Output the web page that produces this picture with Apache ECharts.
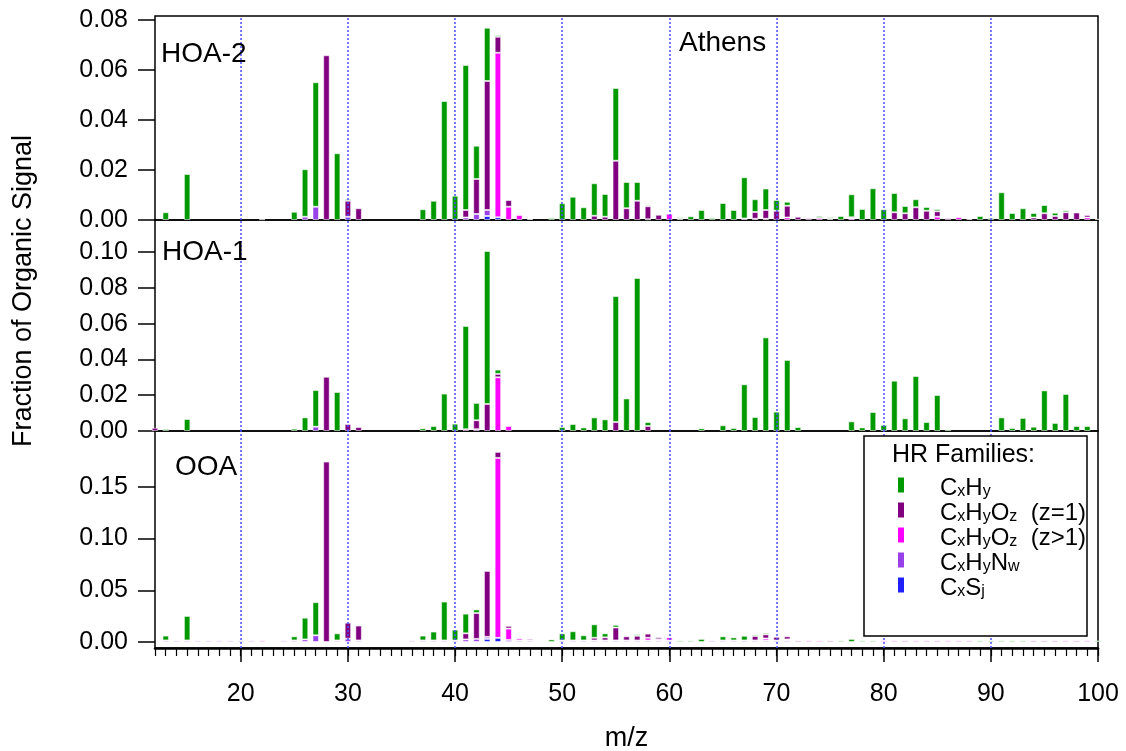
<!DOCTYPE html>
<html>
<head>
<meta charset="utf-8">
<script src="https://cdn.jsdelivr.net/npm/echarts@6/dist/echarts.min.js"></script>
<style>
  html, body { margin: 0; padding: 0; background: #fff; }
  #chart { width: 1126px; height: 751px; }
</style>
</head>
<body>
<div id="chart"></div>
<script>
// HR family mass spectra of the PMF factors (Athens), fraction of organic signal per m/z.
// Each array holds [m/z, fraction] pairs for one family in one factor.

// ---- HOA-2 ----
const hoa2CxHy = [[13,0.0031],[15,0.0184],[25,0.0033],[26,0.019],[27,0.0498],[29,0.0267],[30,0.0007],
  [37,0.0043],[38,0.0077],[39,0.0476],[40,0.0097],[41,0.058],[42,0.0133],[43,0.0213],[44,0.0007],
  [49,0.0008],[50,0.0067],[51,0.0093],[52,0.0051],[53,0.013],[54,0.0091],[55,0.0291],[56,0.0105],
  [57,0.0075],[58,0.0005],[61,0.0006],[62,0.0015],[63,0.004],[64,0.0008],[65,0.0068],[66,0.004],
  [67,0.0165],[68,0.0051],[69,0.0086],[70,0.0043],[71,0.0016],[74,0.0008],[75,0.0006],[76,0.0016],
  [77,0.0092],[78,0.0044],[79,0.0127],[80,0.0043],[81,0.0077],[82,0.0029],[83,0.0032],[84,0.0015],
  [85,0.0009],[88,0.0004],[89,0.0016],[90,0.0008],[91,0.0111],[92,0.0028],[93,0.0047],[94,0.0018],
  [95,0.0033],[96,0.0013],[97,0.0008],[98,0.0003],[99,0.0004],[100,0.0005]];
const hoa2CxHyO1 = [[28,0.0659],[30,0.0064],[31,0.0047],[41,0.003],[42,0.014],[43,0.0516],[44,0.0064],
  [45,0.0027],[53,0.0017],[54,0.0013],[55,0.0237],[56,0.0047],[57,0.0077],[58,0.0052],[59,0.0021],
  [61,0.0005],[67,0.0006],[68,0.0027],[69,0.0035],[70,0.0037],[71,0.0047],[72,0.0013],[73,0.0007],
  [75,0.0005],[77,0.0005],[81,0.0031],[82,0.0027],[83,0.0051],[84,0.0037],[85,0.0022],[86,0.0007],
  [94,0.001],[95,0.0027],[96,0.0016],[97,0.0031],[98,0.003],[99,0.001]];
const hoa2CxHyO2 = [[22,0.0003],[44,0.0658],[45,0.0053],[46,0.002],[47,0.0004],[58,0.0003],[60,0.0025],
  [68,0.0005],[69,0.0005],[71,0.001],[74,0.0008],[77,0.0006],[85,0.0013],[87,0.0011],[99,0.001]];
const hoa2CxHyN = [[26,0.0013],[27,0.0053],[30,0.0013],[41,0.001],[42,0.0024],[43,0.0024]];
const hoa2CxS = [[43,0.0016],[44,0.0011]];

// ---- HOA-1 ----
const hoa1CxHy = [[13,0.0011],[15,0.0067],[25,0.0013],[26,0.0076],[27,0.0205],[29,0.0218],
  [37,0.0015],[38,0.0028],[39,0.0209],[40,0.0041],[41,0.0577],[42,0.0097],[43,0.0855],[44,0.0024],
  [50,0.0022],[51,0.0039],[52,0.002],[53,0.0076],[54,0.0065],[55,0.0704],[56,0.0182],[57,0.0855],
  [58,0.0022],[63,0.0015],[65,0.0032],[66,0.0017],[67,0.0261],[68,0.0078],[69,0.0523],[70,0.0108],
  [71,0.0397],[72,0.0022],[77,0.0054],[78,0.002],[79,0.0106],[80,0.0034],[81,0.0281],[82,0.0071],
  [83,0.0307],[84,0.005],[85,0.0201],[86,0.0009],[91,0.0076],[92,0.0017],[93,0.0073],[94,0.0024],
  [95,0.0227],[96,0.0045],[97,0.0207],[98,0.0028],[99,0.0028]];
const hoa1CxHyO1 = [[12,0.0018],[28,0.0303],[30,0.0039],[31,0.0022],[41,0.001],[42,0.005],[43,0.0151],
  [44,0.0019],[55,0.005],[58,0.0028]];
const hoa1CxHyO2 = [[44,0.03],[45,0.0028]];
const hoa1CxHyN = [[27,0.0024],[42,0.001]];
const hoa1CxS = [];

// ---- OOA ----
const ooaCxHy = [[13,0.0047],[15,0.0237],[25,0.004],[26,0.021],[27,0.032],[29,0.0069],[37,0.0047],
  [38,0.0086],[39,0.0376],[40,0.0105],[41,0.019],[42,0.0035],[49,0.0025],[50,0.0069],[51,0.0089],
  [52,0.005],[53,0.013],[54,0.0039],[55,0.0026],[57,0.0015],[61,0.0015],[62,0.0015],[63,0.003],
  [65,0.004],[66,0.003],[67,0.0045],[68,0.0015],[69,0.0015],[76,0.0015],[77,0.003],[78,0.0015],
  [79,0.0015],[89,0.0015],[90,0.0015],[91,0.0015],[92,0.0015],[93,0.0015],[100,0.0015]];
const ooaCxHyO1 = [[28,0.1744],[30,0.0155],[31,0.0144],[41,0.0059],[42,0.025],[43,0.0637],[44,0.0058],
  [45,0.0026],[47,0.0015],[53,0.0026],[54,0.003],[55,0.0125],[56,0.004],[57,0.0045],[58,0.004],
  [59,0.002],[68,0.0043],[69,0.004],[70,0.0035],[71,0.003],[72,0.0015],[75,0.0015],[82,0.0015],
  [85,0.0015],[94,0.0015],[95,0.0015],[96,0.0015],[98,0.0015]];
const ooaCxHyO2 = [[22,0.0015],[44,0.174],[45,0.011],[46,0.002],[58,0.0026],[59,0.0011],[60,0.003],
  [69,0.0019],[71,0.001],[73,0.0015],[74,0.0015],[80,0.0015],[81,0.0015],[83,0.0015],[84,0.0015],
  [86,0.0015],[87,0.0015],[88,0.0015],[97,0.0015],[99,0.0015]];
const ooaCxHyN = [[13,0.0015],[14,0.0015],[15,0.0015],[16,0.0015],[17,0.0015],[18,0.0015],[19,0.0015],
  [20,0.0015],[21,0.0015],[24,0.0015],[25,0.0015],[26,0.0025],[27,0.0065],[29,0.0015],[30,0.0032],
  [31,0.0015],[36,0.0015],[37,0.0015],[38,0.0015],[39,0.0015],[40,0.0015],[41,0.0025],[42,0.003],
  [43,0.002],[45,0.002],[46,0.0015],[47,0.0015],[50,0.0015],[51,0.0015],[52,0.0015],[53,0.0015],
  [54,0.0015],[55,0.0015],[56,0.0015],[57,0.0015],[58,0.0015],[59,0.0015],[60,0.0015],[64,0.0015],
  [65,0.0015],[66,0.0015],[67,0.0015],[68,0.0015],[69,0.0015],[70,0.0015],[71,0.0015]];
const ooaCxS = [[43,0.003],[44,0.004]];

// Unit-mass positions shared by every panel
const mzAxis = [12,13,14,15,16,17,18,19,20,21,22,23,24,25,26,27,28,29,30,31,32,33,34,35,36,37,38,39,40,
  41,42,43,44,45,46,47,48,49,50,51,52,53,54,55,56,57,58,59,60,61,62,63,64,65,66,67,68,69,70,
  71,72,73,74,75,76,77,78,79,80,81,82,83,84,85,86,87,88,89,90,91,92,93,94,95,96,97,98,99,100];

// Axis ticks and reference lines
const panelNames = ['HOA-2', 'HOA-1', 'OOA'];
const yTicks = [[0, 0.02, 0.04, 0.06, 0.08], [0, 0.02, 0.04, 0.06, 0.08, 0.10], [0, 0.05, 0.10, 0.15]];
const yRange = [[0, 0.0816], [0, 0.1179], [-0.0058, 0.204]];
const xMajorTicks = [20, 30, 40, 50, 60, 70, 80, 90, 100];
const gridLines = [20, 30, 40, 50, 60, 70, 80, 90];

// Family order = stacking order, bottom to top
const familyKeys = ['CxS', 'CxHyN', 'CxHyO2', 'CxHyO1', 'CxHy'];
const familyColors = { CxHy: '#009900', CxHyO1: '#800080', CxHyO2: '#ff00ff', CxHyN: '#9940e8', CxS: '#2020ff' };
const familyLabels = {
  CxHy: '{g|}{n|C}{s|x}{n|H}{s|y}',
  CxHyO1: '{g|}{n|C}{s|x}{n|H}{s|y}{n|O}{s|z}{n|  (z=1)}',
  CxHyO2: '{g|}{n|C}{s|x}{n|H}{s|y}{n|O}{s|z}{n|  (z>1)}',
  CxHyN: '{g|}{n|C}{s|x}{n|H}{s|y}{n|N}{s|w}',
  CxS: '{g|}{n|C}{s|x}{n|S}{s|j}'
};
const panelData = [
  { CxHy: hoa2CxHy, CxHyO1: hoa2CxHyO1, CxHyO2: hoa2CxHyO2, CxHyN: hoa2CxHyN, CxS: hoa2CxS },
  { CxHy: hoa1CxHy, CxHyO1: hoa1CxHyO1, CxHyO2: hoa1CxHyO2, CxHyN: hoa1CxHyN, CxS: hoa1CxS },
  { CxHy: ooaCxHy, CxHyO1: ooaCxHyO1, CxHyO2: ooaCxHyO2, CxHyN: ooaCxHyN, CxS: ooaCxS }
];

// Rows are [fraction, m/z] aligned on mzAxis, so the stacked dimension is the fraction
// and every family in a panel shares the same row index.
function alignToAxis(pairs) {
  const lookup = new Map(pairs);
  return mzAxis.map(m => [lookup.has(m) ? lookup.get(m) : '-', m]);
}

const FONT = 'Liberation Sans, Arial, sans-serif';

const gridBox = [
  { top: 16, height: 204 },
  { top: 220, height: 211 },
  { top: 431, height: 217 }
];

const grids = gridBox.map(g => ({
  left: 155, width: 943, top: g.top, height: g.height,
  outerBoundsMode: 'none', containLabel: false,
  show: true, borderColor: '#000', borderWidth: 1.5, backgroundColor: 'transparent'
}));

const xAxes = [0, 1].map(i => ({
  type: 'value', gridIndex: i, min: 12, max: 100, show: false
}));
xAxes.push({
  type: 'value', gridIndex: 2, position: 'bottom', offset: 0, min: 12, max: 100, interval: 1,
  axisLine: { show: true, onZero: false, lineStyle: { color: '#000', width: 2.5 } },
  axisTick: { show: true, length: 8, lineStyle: { color: '#000', width: 1.2 } },
  axisLabel: { show: false },
  splitLine: { show: false },
  name: 'm/z', nameLocation: 'middle', nameGap: 77,
  nameTextStyle: { fontSize: 27, fontFamily: FONT, color: '#000' }
});
xAxes.push({
  type: 'value', gridIndex: 2, position: 'bottom', offset: 0, min: 12, max: 100,
  axisLine: { show: false, onZero: false },
  axisTick: { show: true, length: 14, customValues: xMajorTicks, lineStyle: { color: '#000', width: 1.5 } },
  axisLabel: { show: true, customValues: xMajorTicks, margin: 34, fontSize: 25, fontFamily: FONT, color: '#000' },
  splitLine: { show: false }
});

const yAxes = [0, 1, 2].map(i => ({
  type: 'value', gridIndex: i, min: yRange[i][0], max: yRange[i][1],
  axisLine: { show: false },
  axisTick: { show: true, length: 17, customValues: yTicks[i], lineStyle: { color: '#000', width: 1.5 } },
  axisLabel: {
    show: true, customValues: yTicks[i], margin: 27, fontSize: 25, fontFamily: FONT, color: '#000',
    formatter: v => v.toFixed(2)
  },
  splitLine: { show: false }
}));

const series = [];
panelData.forEach((pd, p) => {
  familyKeys.forEach(key => {
    const s = {
      type: 'bar', name: key, xAxisIndex: p, yAxisIndex: p,
      stack: 'panel' + p, barWidth: 6.5, data: alignToAxis(pd[key]),
      encode: { x: 1, y: 0 },
      itemStyle: { color: familyColors[key], borderColor: 'rgba(255,255,255,0.55)', borderWidth: 1 },
      emphasis: { disabled: true }
    };
    if (key === 'CxHy') {
      s.markLine = {
        silent: true, symbol: ['none', 'none'], label: { show: false },
        lineStyle: { type: [2, 2], color: '#4d4dff', width: 1.5 },
        data: gridLines.map(v => ({ xAxis: v }))
      };
    }
    series.push(s);
  });
});

const textStyleBase = { fill: '#000', fontFamily: FONT };

const option = {
  animation: false,
  backgroundColor: '#fff',
  grid: grids,
  xAxis: xAxes,
  yAxis: yAxes,
  series: series,
  legend: {
    data: ['CxHy', 'CxHyO1', 'CxHyO2', 'CxHyN', 'CxS'],
    orient: 'vertical', left: 893, top: 471,
    itemWidth: 6, itemHeight: 15, itemGap: 1, icon: 'rect',
    selectedMode: false, z: 10,
    itemStyle: { borderWidth: 0 },
    formatter: name => familyLabels[name],
    textStyle: {
      rich: {
        g: { width: 31 },
        n: { fontSize: 24, fontFamily: FONT, color: '#000', lineHeight: 30, verticalAlign: 'bottom' },
        s: { fontSize: 16, fontFamily: FONT, color: '#000', lineHeight: 15, verticalAlign: 'bottom' }
      }
    }
  },
  graphic: [
    { type: 'rect', z: 8, shape: { x: 864, y: 436, width: 223, height: 200 },
      style: { fill: '#fff', stroke: '#000', lineWidth: 1.5 } },
    { type: 'text', z: 9, x: 892, y: 455,
      style: Object.assign({ text: 'HR Families:', fontSize: 25, verticalAlign: 'middle' }, textStyleBase) },
    { type: 'text', z: 9, x: 161, y: 54,
      style: Object.assign({ text: panelNames[0], fontSize: 28, verticalAlign: 'middle' }, textStyleBase) },
    { type: 'text', z: 9, x: 162, y: 252,
      style: Object.assign({ text: panelNames[1], fontSize: 28, verticalAlign: 'middle' }, textStyleBase) },
    { type: 'text', z: 9, x: 175, y: 467,
      style: Object.assign({ text: panelNames[2], fontSize: 28, verticalAlign: 'middle' }, textStyleBase) },
    { type: 'text', z: 9, x: 679, y: 43,
      style: Object.assign({ text: 'Athens', fontSize: 28, verticalAlign: 'middle' }, textStyleBase) },
    { type: 'text', z: 9, x: 24, y: 291, rotation: Math.PI / 2,
      style: Object.assign({ text: 'Fraction of Organic Signal', fontSize: 27, align: 'center', verticalAlign: 'middle' },
        textStyleBase) }
  ]
};

const chart = echarts.init(document.getElementById('chart'), null, { renderer: 'canvas' });
chart.setOption(option);
</script>
</body>
</html>
